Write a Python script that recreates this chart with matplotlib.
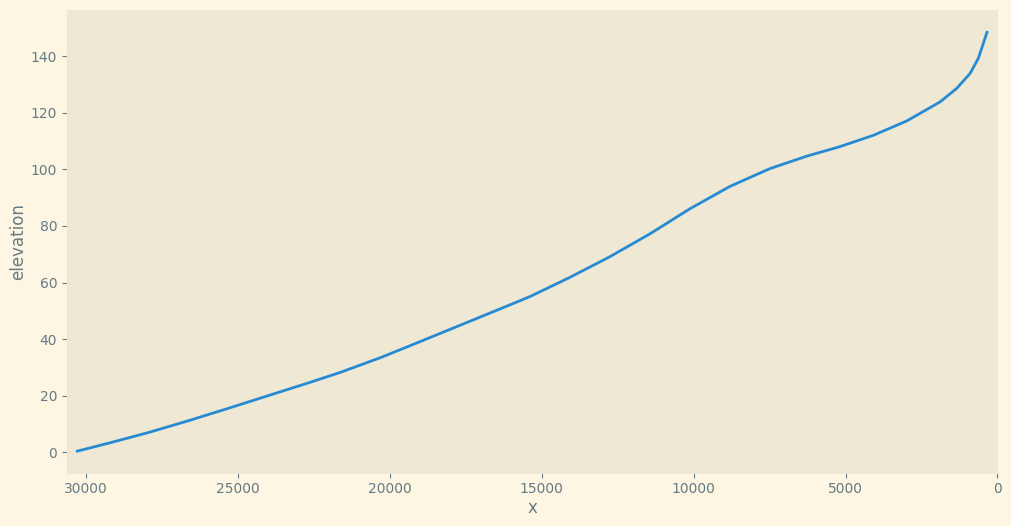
import matplotlib
matplotlib.use("Agg")
import matplotlib.pyplot as plt

# distance along profile (descending) and elevation
x_vals = [30325, 29230, 27910, 26590, 25275, 23960, 22640, 21650, 20330,
          19020, 17700, 16380, 15390, 14075, 12760, 11440, 10120, 8805,
          7490, 6280, 5180, 4520, 4080, 2980, 1890, 1340, 900, 630, 330]
elevation = [0.2, 3.2, 7.0, 11.2, 15.6, 20.1, 24.6, 28.1, 33.3,
             39.0, 44.8, 50.6, 55.0, 61.8, 69.1, 77.2, 86.1, 94.0,
             100.3, 104.7, 108.1, 110.5, 112.1, 117.2, 123.9, 128.7, 134.0, 139.3, 149.0]

plt.style.use("Solarize_Light2")
fig = plt.figure(figsize=(10.11, 5.26), dpi=100)
ax = fig.add_subplot(111)
fig.subplots_adjust(left=0.0663, right=0.9866, top=0.981, bottom=0.1017)

ax.plot(x_vals, elevation, color="#268BD2", linewidth=2)
ax.grid(False)
ax.set_xlim(30620, 0)
ax.set_xlabel("x", labelpad=1.8)
ax.set_ylabel("elevation", labelpad=2.5)

fig.savefig("out.png", dpi=100)
